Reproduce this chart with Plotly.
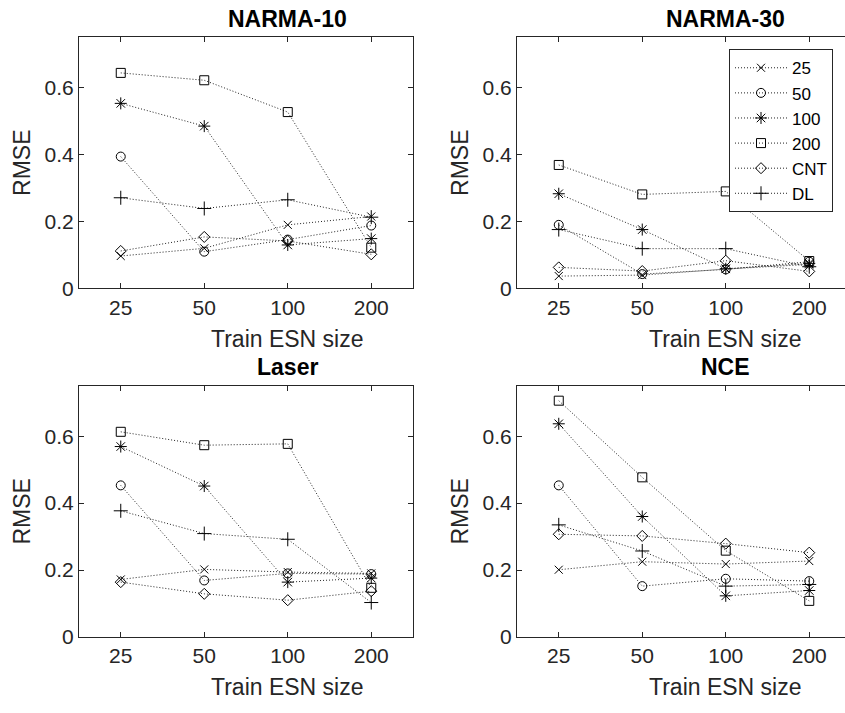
import plotly.graph_objects as go

sizes = ["25", "50", "100", "200"]
series_names = ["25", "50", "100", "200", "CNT", "DL"]
panel_titles = ["NARMA-10", "NARMA-30", "Laser", "NCE"]

narma10 = {
    "25":  [0.097, 0.120, 0.190, 0.215],
    "50":  [0.394, 0.110, 0.146, 0.188],
    "100": [0.553, 0.485, 0.130, 0.149],
    "200": [0.644, 0.622, 0.527, 0.122],
    "CNT": [0.112, 0.154, 0.142, 0.102],
    "DL":  [0.271, 0.239, 0.265, 0.213],
}
narma30 = {
    "25":  [0.037, 0.040, 0.058, 0.072],
    "50":  [0.190, 0.043, 0.057, 0.080],
    "100": [0.283, 0.176, 0.059, 0.075],
    "200": [0.369, 0.281, 0.290, 0.082],
    "CNT": [0.063, 0.052, 0.083, 0.051],
    "DL":  [0.176, 0.119, 0.119, 0.065],
}
laser = {
    "25":  [0.172, 0.202, 0.194, 0.190],
    "50":  [0.453, 0.169, 0.190, 0.188],
    "100": [0.569, 0.451, 0.164, 0.176],
    "200": [0.613, 0.573, 0.577, 0.147],
    "CNT": [0.164, 0.129, 0.110, 0.137],
    "DL":  [0.377, 0.309, 0.292, 0.103],
}
nce = {
    "25":  [0.201, 0.225, 0.218, 0.227],
    "50":  [0.453, 0.152, 0.174, 0.167],
    "100": [0.637, 0.360, 0.123, 0.139],
    "200": [0.706, 0.477, 0.258, 0.108],
    "CNT": [0.307, 0.302, 0.279, 0.252],
    "DL":  [0.335, 0.257, 0.152, 0.157],
}
panels = [narma10, narma30, laser, nce]

symbols = {
    "25": ("x-thin-open", 8),
    "50": ("circle-open", 9),
    "100": ("asterisk-open", 10),
    "200": ("square-open", 9),
    "CNT": ("diamond-open", 8.5),
    "DL": ("cross-thin-open", 10),
}

W, H = 845, 713
AX = "#262626"
FONT = "Liberation Sans, Arial, sans-serif"

# pixel geometry of each panel: (left, right, top, bottom)
geoms = [(79, 413, 38, 293), (517, 845, 38, 293), (79, 413, 392, 647), (517, 845, 392, 647)]
slot = (413 - 79) / 4.0

fig = go.Figure()
layout = dict(
    width=W, height=H, margin=dict(l=0, r=0, t=0, b=0),
    paper_bgcolor="white", plot_bgcolor="white",
    font=dict(family=FONT, color=AX, size=21),
    showlegend=True,
)
annotations = []
xpos = list(range(1, len(sizes) + 1))

for i, (data, title) in enumerate(zip(panels, panel_titles)):
    left, right, top, bottom = geoms[i]
    xa = "xaxis" if i == 0 else f"xaxis{i+1}"
    ya = "yaxis" if i == 0 else f"yaxis{i+1}"
    xr = "x" if i == 0 else f"x{i+1}"
    yr = "y" if i == 0 else f"y{i+1}"
    xmax = 0.5 + (right - left) / slot
    cut_right = right >= W
    layout[xa] = dict(
        domain=[left / W, right / W], anchor=yr, range=[0.5, xmax],
        tickvals=xpos, ticktext=sizes, ticks="inside", ticklen=5, tickcolor=AX,
        showline=True, linecolor=AX, linewidth=1, mirror="ticks",
        showgrid=False, zeroline=False, tickfont=dict(size=21, color=AX),
        fixedrange=True,
    )
    layout[ya] = dict(
        domain=[1 - bottom / H, 1 - top / H], anchor=xr, range=[0, 0.75],
        tickvals=[0, 0.2, 0.4, 0.6], ticktext=["0", "0.2", "0.4", "0.6"],
        ticks="inside", ticklen=5, tickcolor=AX,
        showline=True, linecolor=AX, linewidth=1,
        mirror=False if cut_right else "ticks",
        showgrid=False, zeroline=False, tickfont=dict(size=21, color=AX),
        fixedrange=True,
    )
    for name in series_names:
        sym, sz = symbols[name]
        fig.add_trace(go.Scatter(
            x=xpos, y=data[name], name=name, mode="lines+markers",
            line=dict(color="#222222", width=1, dash="1px,2px"),
            marker=dict(symbol=sym, size=sz, color="black",
                        line=dict(color="black", width=1)),
            xaxis=xr, yaxis=yr, legendgroup=name, showlegend=(i == 1),
        ))
    cx = left + 2.5 * slot
    annotations.append(dict(text=f"<b>{title}</b>", x=cx / W, y=1 - (top - 19) / H,
                            xref="paper", yref="paper", showarrow=False,
                            xanchor="center", yanchor="middle",
                            font=dict(size=23, color="black", family=FONT)))
    annotations.append(dict(text="Train ESN size", x=cx / W, y=1 - (bottom + 51) / H,
                            xref="paper", yref="paper", showarrow=False,
                            xanchor="center", yanchor="middle",
                            font=dict(size=23, color=AX, family=FONT)))
    annotations.append(dict(text="RMSE", x=(left - 57) / W, y=1 - ((top + bottom) / 2) / H,
                            xref="paper", yref="paper", showarrow=False, textangle=-90,
                            xanchor="center", yanchor="middle",
                            font=dict(size=23, color=AX, family=FONT)))

layout["annotations"] = annotations
layout["legend"] = dict(
    x=729 / W, y=1 - 50 / H, xanchor="left", yanchor="top",
    bgcolor="white", bordercolor=AX, borderwidth=1,
    font=dict(size=17, color="black", family=FONT),
    tracegroupgap=0, itemwidth=52,
)
fig.update_layout(**layout)
fig.write_html("out.html")
